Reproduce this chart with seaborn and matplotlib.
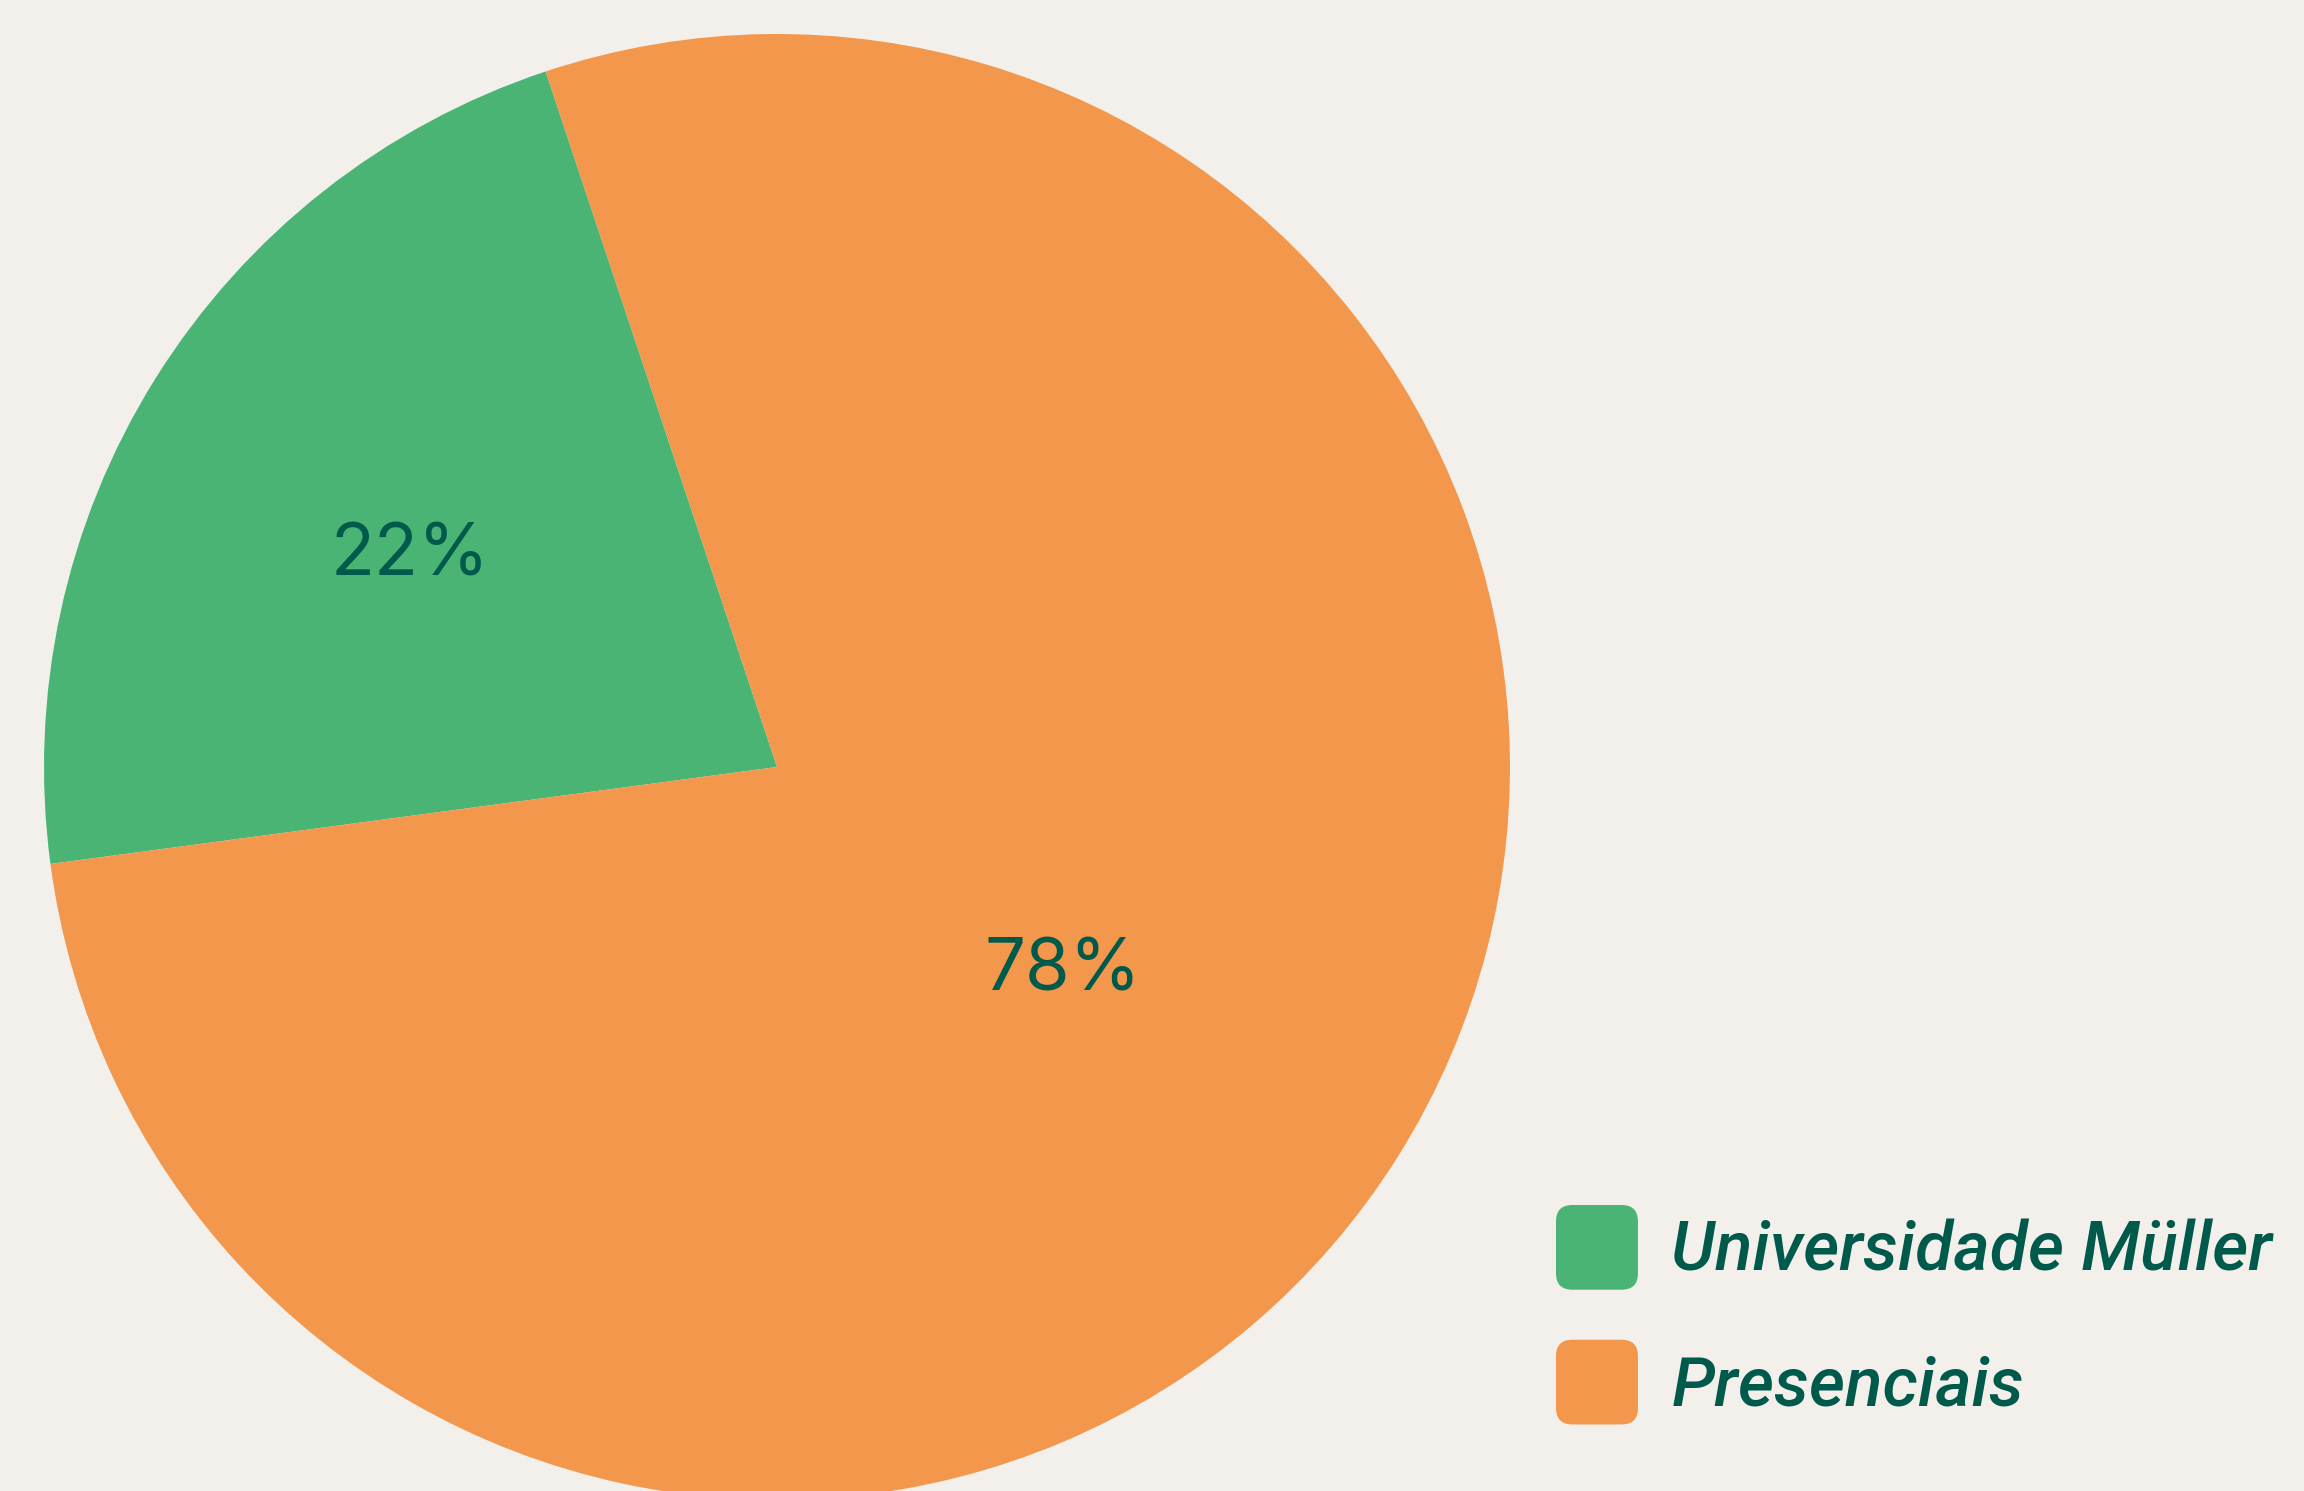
import matplotlib
matplotlib.use("Agg")
import matplotlib.pyplot as plt
import seaborn as sns
import numpy as np
from matplotlib.patches import FancyBboxPatch
from matplotlib.legend_handler import HandlerPatch

categories = ["Universidade Müller", "Presenciais"]
values = [22, 78]
colors_hex = ["#4ab475", "#f2974c"]
text_color = "#005a4b"
bg = "#f3f0eb"

sns.set_theme(style="white")
plt.rcParams['font.family'] = ['Inter', 'DejaVu Sans']

W, H = 2304, 1491
fig = plt.figure(figsize=(W / 100, H / 100), dpi=100, facecolor=bg)
cx, cy, R = 777, 767, 733
ax = fig.add_axes([(cx - R) / W, (H - cy - R) / H, 2 * R / W, 2 * R / H])
ax.set_facecolor(bg)
ax.axis("off")

palette = sns.color_palette(colors_hex)
wedges, texts, autotexts = ax.pie(
    values, colors=palette, startangle=108.4, counterclock=True,
    autopct=lambda p: f"{p:.0f}%", pctdistance=0.55,
    textprops=dict(color=text_color, fontsize=52, family=['Inter', 'DejaVu Sans']), radius=1.0,
    wedgeprops=dict(linewidth=0))
ax.set_aspect("auto")
ax.set_xlim(-1, 1)
ax.set_ylim(-1, 1)

dists = [0.59, 0.46]
yoff = [-0.025, -0.035]
for w, t, d, o in zip(wedges, autotexts, dists, yoff):
    mid = np.deg2rad((w.theta1 + w.theta2) / 2)
    t.set_position((d * np.cos(mid), d * np.sin(mid) + o))
    t.set_ha("center"); t.set_va("center")


class RoundHandler(HandlerPatch):
    def create_artists(self, legend, orig_handle, xdescent, ydescent, width, height, fontsize, trans):
        p = FancyBboxPatch((-xdescent, -ydescent), width, height,
                           boxstyle=f"round,pad=0,rounding_size={min(width, height) * 0.2}",
                           facecolor=orig_handle.get_facecolor(), edgecolor="none", transform=trans)
        return [p]


leg = fig.legend(wedges, categories, loc="upper left", bbox_to_anchor=(1556 / W, 1 - 1205 / H),
                 frameon=False, borderpad=0, borderaxespad=0,
                 prop=dict(family="Roboto", style="italic", weight="medium", size=50),
                 handlelength=1.18, handleheight=1.5, handletextpad=0.48, labelspacing=0.72,
                 handler_map={w: RoundHandler() for w in wedges})
for t in leg.get_texts():
    t.set_color(text_color)

fig.savefig("out.png", dpi=100, facecolor=bg)
